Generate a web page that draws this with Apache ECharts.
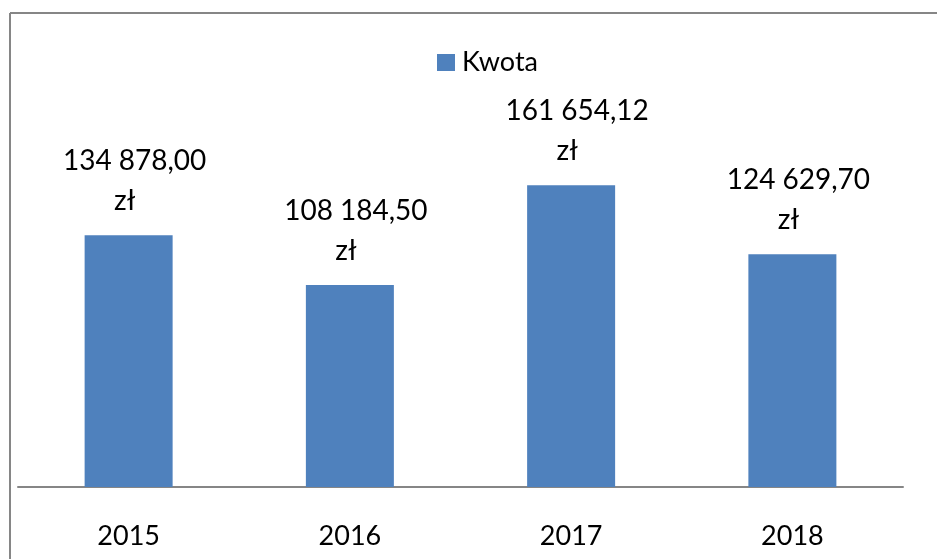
<!DOCTYPE html>
<html>
<head>
<meta charset="utf-8">
<script src="https://cdn.jsdelivr.net/npm/echarts@6/dist/echarts.min.js"></script>
<style>
html,body{margin:0;padding:0;background:#fff;}
#chart{width:937px;height:559px;}
</style>
</head>
<body>
<div id="chart"></div>
<script>
const categories = ['2015', '2016', '2017', '2018'];
const seriesName = 'Kwota';
const values = [134878.00, 108184.50, 161654.12, 124629.70];
const currency = 'zł';

function fmtPL(v) {
  const parts = v.toFixed(2).split('.');
  const intPart = parts[0].replace(/\B(?=(\d{3})+(?!\d))/g, ' ');
  return intPart + ',' + parts[1];
}

const FONT = 'Lato, "Open Sans", sans-serif';
const chart = echarts.init(document.getElementById('chart'), null, {renderer: 'canvas'});
chart.setOption({
  animation: false,
  backgroundColor: '#ffffff',
  graphic: [
    {type: 'line', shape: {x1: 10, y1: 13, x2: 937, y2: 13}, style: {stroke: '#868686', lineWidth: 2}},
    {type: 'line', shape: {x1: 10, y1: 13, x2: 10, y2: 559}, style: {stroke: '#868686', lineWidth: 2}}
  ],
  legend: {
    data: [seriesName],
    left: 432,
    top: 44,
    itemWidth: 18,
    itemHeight: 17,
    itemGap: 10,
    icon: 'rect',
    textStyle: {fontFamily: FONT, fontSize: 27, color: '#000', padding: [0, 0, 0, 2]}
  },
  grid: {left: 18, right: 34, top: 151, bottom: 72, containLabel: false},
  xAxis: {
    type: 'category',
    data: categories,
    axisLine: {show: true, lineStyle: {color: '#868686', width: 2}},
    axisTick: {show: false},
    axisLabel: {fontFamily: FONT, fontSize: 27, color: '#000', margin: 36, lineHeight: 27}
  },
  yAxis: {
    type: 'value',
    min: 0,
    max: 180000,
    show: false,
    splitLine: {show: false}
  },
  series: [{
    name: seriesName,
    type: 'bar',
    data: values,
    barWidth: 88,
    itemStyle: {color: '#4f81bd'},
    label: {
      show: true,
      position: 'top',
      distance: 14,
      fontFamily: FONT,
      fontSize: 28,
      lineHeight: 40,
      color: '#000',
      formatter: p => '{a|' + fmtPL(p.value) + '}\n{b|' + currency + '}',
      rich: {
        a: {fontFamily: FONT, fontSize: 28, lineHeight: 40, color: '#000', padding: [0, 0, 0, 12]},
        b: {fontFamily: FONT, fontSize: 28, lineHeight: 40, color: '#000', padding: [0, 8, 0, 0]}
      }
    }
  }]
});
</script>
</body>
</html>
